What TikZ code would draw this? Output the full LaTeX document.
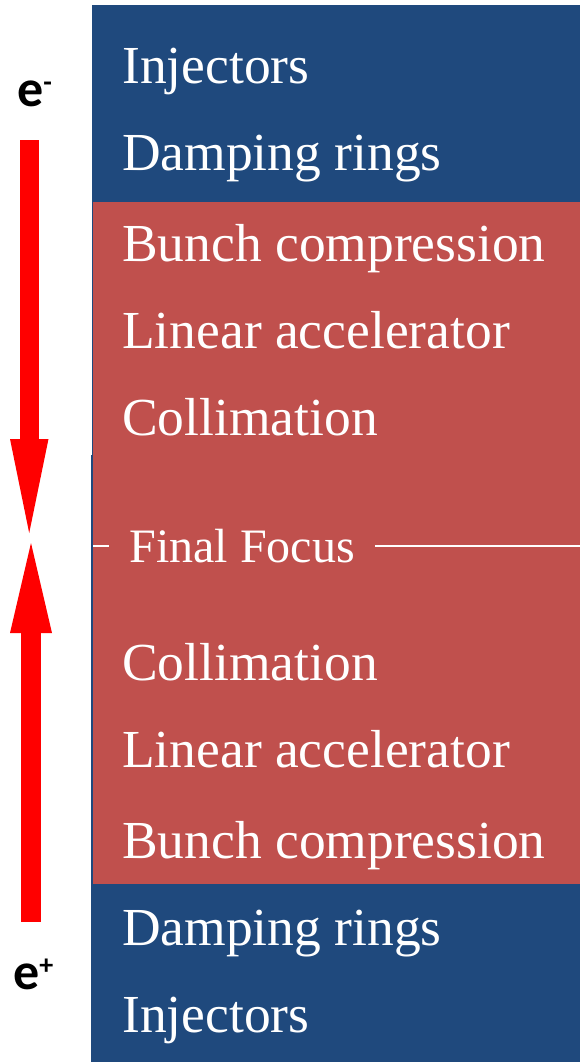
\documentclass[tikz,border=0pt]{standalone}
\usepackage{fontspec}
\setmainfont{Liberation Serif}
\newfontfamily\labelfont{Carlito}
\definecolor{stageblue}{HTML}{1F497D}
\definecolor{stagered}{HTML}{C0504D}
\tikzset{
  stage/.style={anchor=base west, inner sep=0pt, text=white,
    font=\fontsize{53.5}{60}\selectfont},
  focus/.style={anchor=base, inner xsep=20pt, inner ysep=0pt, text=white,
    font=\fontsize{48}{54}\selectfont},
  particle/.style={anchor=base west, inner sep=0pt,
    font=\labelfont\bfseries\fontsize{52}{58}\selectfont},
  beamshaft/.style={fill=red},
  beamhead/.style={fill=red},
  focusline/.style={draw=white, line width=1.8pt}
}
\newcommand{\chargesup}[1]{\raisebox{15pt}{\fontsize{28}{30}\selectfont #1}}
\begin{document}
\begin{tikzpicture}[x=1pt,y=-1pt]
\useasboundingbox (0,0) rectangle (580,1062);
\fill[white] (0,0) rectangle (580,1062);
% stage blocks
\fill[stageblue] (92,5) rectangle (580,455);
\fill[stageblue] (91,455) rectangle (580,1062);
\fill[stagered] (93,202) rectangle (580,884);
% stage names, electron side
\node[stage] (inj1) at (122,84) {Injectors};
\node[stage] (dr1) at (122,170) {Damping rings};
\node[stage] (bc1) at (122,261) {Bunch compression};
\node[stage] (la1) at (122,348) {Linear accelerator};
\node[stage] (col1) at (122,435) {Collimation};
% interaction region
\node[focus] (ff) at (242,562) {Final Focus};
\coordinate (ffleft) at (93,546);
\coordinate (ffright) at (580,546);
\draw[focusline] (ffleft) -- (ffleft -| ff.west);
\draw[focusline] (ff.east |- ffright) -- (ffright);
% stage names, positron side
\node[stage] (col2) at (122,680) {Collimation};
\node[stage] (la2) at (122,767) {Linear accelerator};
\node[stage] (bc2) at (122,858) {Bunch compression};
\node[stage] (dr2) at (122,945) {Damping rings};
\node[stage] (inj2) at (122,1032) {Injectors};
% particle labels
\node[particle] (em) at (17,107) {e\chargesup{-}};
\node[particle] (ep) at (13,989) {e\chargesup{+}};
% electron beam: shaft and head
\fill[beamshaft] (20,140) rectangle (38.5,440);
\fill[beamhead] (10,439) -- (48.5,439) -- (29.2,533) -- cycle;
% positron beam: shaft and head
\fill[beamshaft] (21,922) rectangle (41,632);
\fill[beamhead] (10,633) -- (52,633) -- (31,543) -- cycle;
\end{tikzpicture}
\end{document}
